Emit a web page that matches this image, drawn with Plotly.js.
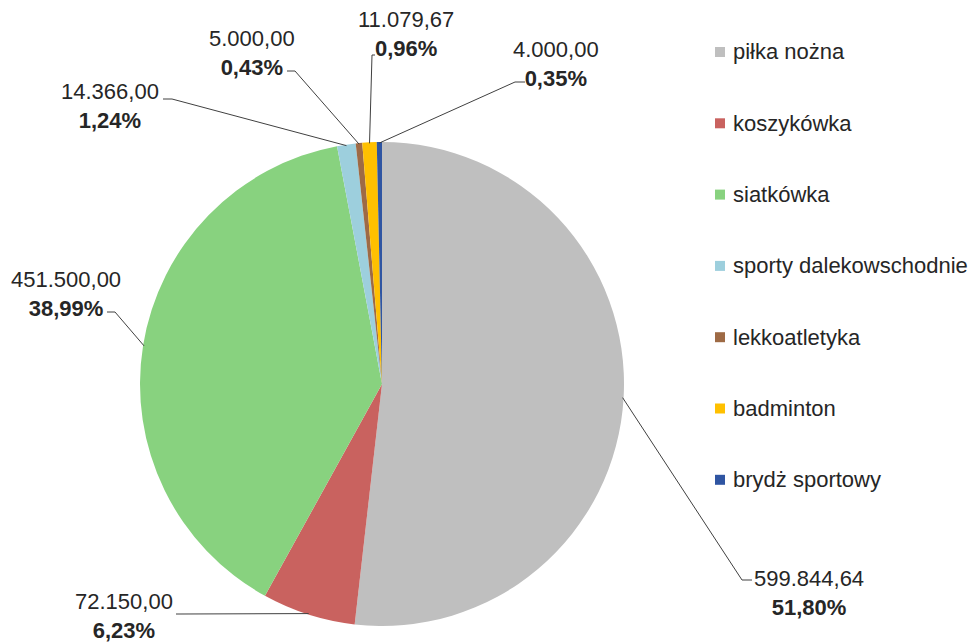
<!DOCTYPE html>
<html><head><meta charset="utf-8">
<script src="https://cdn.plot.ly/plotly-3.0.1.min.js"></script>
<style>html,body{margin:0;padding:0;background:#fff}#chart{width:970px;height:643px}</style>
</head><body><div id="chart"></div>
<script>
const categories = ['piłka nożna','koszykówka','siatkówka','sporty dalekowschodnie','lekkoatletyka','badminton','brydż sportowy'];
const values = [599844.64, 72150.00, 451500.00, 14366.00, 5000.00, 11079.67, 4000.00];
const colors = ['#BFBFBF','#C9625F','#88D27F','#9DCFDD','#9E6A45','#FFC000','#2F55A2'];

// layout constants (pixels)
const W = 970, H = 643, CX = 382, CY = 384, R = 242;
// per-slice label placement: [elbowX, elbowY, endX, endY, labelCenterX, labelCenterY]
const labelLayout = [
  [742, 580, 752, 580, 809, 593],
  [180, 614, 176, 614, 124, 616],
  [115, 312, 107, 312, 66, 294],
  [172, 99, 163, 99, 110, 106],
  [295, 71, 287, 71, 252, 52.5],
  [372, 55, 375, 55, 406, 34],
  [515, 82, 525, 82, 556, 64]
];
const legendX = 715, legendTop = 52, legendStep = 71.3, markerSize = 10;
const FONT = '"Liberation Sans", Arial, sans-serif';

const px = x => x / W, py = y => 1 - y / H;
function fmt(v) {
  const parts = v.toFixed(2).split('.');
  return parts[0].replace(/\B(?=(\d{3})+(?!\d))/g, '.') + ',' + parts[1];
}
const total = values.reduce((a, b) => a + b, 0);

const shapes = [], annotations = [];
let cum = 0;
values.forEach((v, i) => {
  const mid = (cum + v / 2) / total * 2 * Math.PI;
  cum += v;
  const ex = CX + (R - 1) * Math.sin(mid), ey = CY - (R - 1) * Math.cos(mid);
  const L = labelLayout[i];
  shapes.push({
    type: 'path', xref: 'paper', yref: 'paper',
    path: `M ${px(ex)},${py(ey)} L ${px(L[0])},${py(L[1])} L ${px(L[2])},${py(L[3])}`,
    line: {color: '#404040', width: 1}
  });
  const pct = (v / total * 100).toFixed(2).replace('.', ',') + '%';
  annotations.push({
    xref: 'paper', yref: 'paper', x: px(L[4]), y: py(L[5]),
    xanchor: 'center', yanchor: 'middle', showarrow: false, align: 'center',
    text: fmt(v) + '<br><b>' + pct + '</b>',
    font: {family: FONT, size: 22, color: '#262626'}
  });
});

categories.forEach((c, i) => {
  const yc = legendTop + i * legendStep;
  shapes.push({
    type: 'rect', xref: 'paper', yref: 'paper',
    x0: px(legendX), x1: px(legendX + markerSize),
    y0: py(yc - markerSize / 2), y1: py(yc + markerSize / 2),
    fillcolor: colors[i], line: {width: 0}
  });
  annotations.push({
    xref: 'paper', yref: 'paper', x: px(legendX + 16), y: py(yc),
    xanchor: 'left', yanchor: 'middle', showarrow: false,
    text: c, font: {family: FONT, size: 22, color: '#262626'}
  });
});

const trace = {
  type: 'pie', labels: categories, values: values, sort: false,
  direction: 'clockwise', rotation: 0,
  marker: {colors: colors, line: {width: 0}},
  textinfo: 'none', hoverinfo: 'label+value+percent',
  domain: {x: [px(CX - R), px(CX + R)], y: [py(CY + R), py(CY - R)]}
};

Plotly.newPlot('chart', [trace], {
  width: W, height: H, margin: {l: 0, r: 0, t: 0, b: 0},
  showlegend: false, paper_bgcolor: '#fff',
  font: {family: FONT},
  shapes: shapes, annotations: annotations
}, {displayModeBar: false, staticPlot: true});
</script></body></html>
